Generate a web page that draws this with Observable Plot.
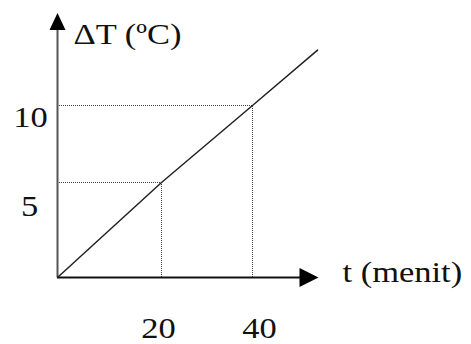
<!DOCTYPE html>
<html><head><meta charset="utf-8">
<script src="https://cdn.jsdelivr.net/npm/d3@7"></script>
<script src="https://cdn.jsdelivr.net/npm/@observablehq/plot@0.6"></script>
<style>html,body{margin:0;padding:0;background:#fff}</style>
</head><body><div id="chart"></div>
<script>
// ---- data ----
const times = [0, 20, 40];        // t (menit)
const deltaT = [0, 5, 10];        // ΔT (ºC)
const lineEndT = 54.3;
const lineEndDT = 13.6;
const xTicks = [20, 40];
const yTicks = [5, 10];
const xAxisEnd = 54.5;
const yAxisEnd = 16;
const xTitle = "t (menit)";
const yTitle = "ΔT (ºC)";

const lineData = times.map((t, i) => ({t, dT: deltaT[i]})).concat([{t: lineEndT, dT: lineEndDT}]);
const guides = times.slice(1).map((t, i) => ({t, dT: deltaT[i + 1]}));

const arrowUp = {draw(ctx) { ctx.moveTo(0, 0); ctx.lineTo(-8, 17); ctx.lineTo(8, 17); ctx.closePath(); }};
const arrowRight = {draw(ctx) { ctx.moveTo(0, 0); ctx.lineTo(-19, -9.5); ctx.lineTo(-19, 9.5); ctx.closePath(); }};

const font = {fontFamily: "Liberation Serif", fontSize: 30, fill: "#111", lineAnchor: "bottom"};

const chart = Plot.plot({
  width: 471,
  height: 344,
  margin: 0,
  style: {background: "#fff", overflow: "visible"},
  x: {type: "linear", domain: times, range: [57, 161, 252], axis: null},
  y: {type: "linear", domain: deltaT, range: [277, 182, 105], axis: null},
  marks: [
    // dotted guides
    Plot.ruleY(guides, {y: "dT", x1: 0, x2: "t", stroke: "#444", strokeWidth: 1, strokeDasharray: "1,1"}),
    Plot.ruleX(guides, {x: "t", y1: 0, y2: "dT", stroke: "#444", strokeWidth: 1, strokeDasharray: "1,1"}),
    // axes
    Plot.ruleX([0], {y1: 0, y2: yAxisEnd - 0.8, stroke: "#555", strokeWidth: 2}),
    Plot.ruleY([0], {x1: 0, x2: xAxisEnd - 3, stroke: "#111", strokeWidth: 2}),
    Plot.dot([{t: 0, dT: yAxisEnd}], {x: "t", y: "dT", symbol: arrowUp, fill: "#000", stroke: "none"}),
    Plot.dot([{t: xAxisEnd, dT: 0}], {x: "t", y: "dT", symbol: arrowRight, fill: "#000", stroke: "none"}),
    // line
    Plot.line(lineData, {x: "t", y: "dT", stroke: "#222", strokeWidth: 1.5}),
    // tick labels
    Plot.text([yTicks[0]], {x: 0, y: d => d, text: d => String(d), dx: -28, dy: 33, textAnchor: "middle", ...font}),
    Plot.text([yTicks[1]], {x: 0, y: d => d, text: d => String(d), dx: -27, dy: 21, textAnchor: "middle", ...font}),
    Plot.text([xTicks[0]], {x: d => d, y: 0, text: d => String(d), dx: -3, dy: 60, textAnchor: "middle", ...font}),
    Plot.text([xTicks[1]], {x: d => d, y: 0, text: d => String(d), dx: 7, dy: 60, textAnchor: "middle", ...font}),
    // axis titles
    Plot.text([yTitle], {x: 0, y: yAxisEnd, text: d => d, dx: 16, dy: 31, textAnchor: "start", ...font}),
    Plot.text([xTitle], {x: xAxisEnd, y: 0, text: d => d, dx: 24, dy: 4, textAnchor: "start", ...font})
  ]
});
chart.querySelectorAll("text").forEach(t => {
  const tr = t.getAttribute("transform") || "";
  t.setAttribute("transform", tr + " scale(1.15,1)");
});
document.getElementById("chart").append(chart);
</script>
</body></html>
